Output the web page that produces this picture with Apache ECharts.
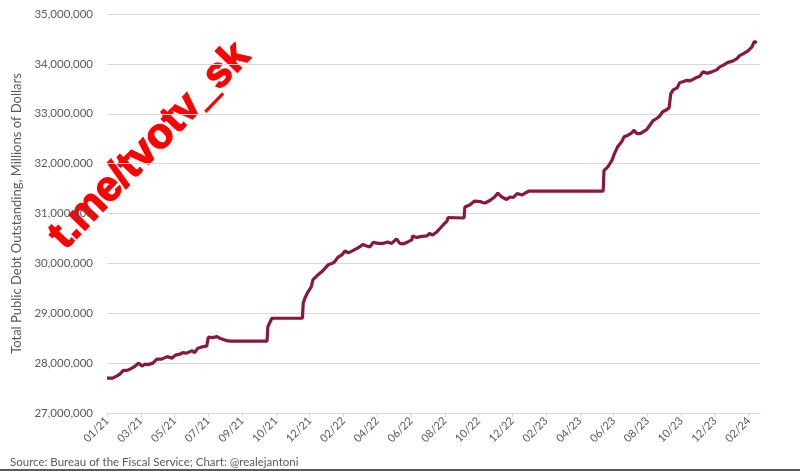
<!DOCTYPE html>
<html>
<head>
<meta charset="utf-8">
<script src="https://cdn.jsdelivr.net/npm/echarts@6/dist/echarts.min.js"></script>
<style>
html,body{margin:0;padding:0;background:#fff;}
#chart{width:800px;height:471px;}
</style>
</head>
<body>
<div id="chart"></div>
<script>
// Business-day index since first data point (01/21)
const tickStep = 42;
const tickLabels = ["01/21","03/21","05/21","07/21","09/21","10/21","12/21","02/22","04/22","06/22","08/22","10/22","12/22","02/23","04/23","06/23","08/23","10/23","12/23","02/24"];

const days = [0,7,12,16,20,26,31,35,39,44,47,51,57,62,68,75,81,85,91,94,99,106,109,113,119,124,126,131,137,140,144,149,153,199,200,205,243,244,246,250,254,256,261,267,271,275,280,283,287,292,296,300,305,311,314,318,323,327,331,337,343,349,354,360,364,368,374,379,380,385,392,398,401,405,410,414,418,423,424,444,445,451,457,464,467,470,476,482,486,491,497,501,505,510,516,520,525,617,618,623,628,631,635,640,643,648,653,655,659,663,666,671,675,679,684,687,691,696,699,701,704,709,712,716,721,725,731,737,741,746,752,758,762,766,772,777,783,787,791,797,802,805,808];

// Total public debt outstanding, millions of dollars
const debt = [27700000,27700000,27740000,27780000,27850000,27860000,27900000,27940000,28000000,27940000,27980000,27970000,28000000,28080000,28080000,28130000,28100000,28160000,28180000,28210000,28200000,28250000,28210000,28300000,28330000,28340000,28520000,28510000,28530000,28500000,28480000,28450000,28440000,28440000,28730000,28900000,28900000,29200000,29300000,29430000,29530000,29670000,29750000,29830000,29900000,29970000,30000000,30030000,30120000,30170000,30250000,30210000,30250000,30300000,30330000,30380000,30350000,30330000,30420000,30400000,30400000,30430000,30400000,30490000,30400000,30390000,30430000,30470000,30550000,30520000,30540000,30550000,30600000,30570000,30630000,30700000,30770000,30850000,30920000,30910000,31130000,31170000,31250000,31240000,31220000,31210000,31260000,31330000,31410000,31330000,31280000,31330000,31320000,31400000,31370000,31410000,31450000,31450000,31860000,31940000,32070000,32200000,32340000,32440000,32540000,32570000,32620000,32670000,32600000,32600000,32630000,32680000,32770000,32860000,32910000,32950000,33040000,33080000,33120000,33400000,33480000,33520000,33620000,33640000,33670000,33660000,33710000,33750000,33840000,33810000,33840000,33880000,33940000,33970000,34030000,34050000,34100000,34170000,34200000,34260000,34340000,34450000,34420000];

const yTicks = [27000000,28000000,29000000,30000000,31000000,32000000,33000000,34000000,35000000];

const labelFont = 'Lato';
const lineColor = '#8a173f';
const chart = echarts.init(document.getElementById('chart'), null, {renderer:'canvas'});
const tickPos = tickLabels.map((_, i) => i * tickStep);

chart.setOption({
  animation: false,
  backgroundColor: '#ffffff',
  grid: {left: 107, right: 40, top: 14, bottom: 58},
  xAxis: {
    type: 'value',
    min: 0,
    max: 812,
    axisLine: {show: true, lineStyle: {color: '#d9d9d9', width: 1}},
    axisTick: {show: true, length: 4, lineStyle: {color: '#d9d9d9'}, customValues: tickPos},
    splitLine: {show: false},
    axisLabel: {
      customValues: tickPos,
      rotate: 45,
      margin: 6,
      color: '#595959',
      fontFamily: labelFont,
      fontSize: 11,
      formatter: v => tickLabels[Math.round(v / tickStep)]
    }
  },
  yAxis: {
    type: 'value',
    min: yTicks[0],
    max: yTicks[yTicks.length - 1],
    interval: 1000000,
    name: 'Total Public Debt Outstanding, Millions of Dollars',
    nameLocation: 'middle',
    nameGap: 82,
    nameTextStyle: {color: '#595959', fontFamily: labelFont, fontSize: 13},
    axisLine: {show: false},
    axisTick: {show: false},
    splitLine: {show: true, lineStyle: {color: '#d9d9d9', width: 1}},
    axisLabel: {
      color: '#595959',
      fontFamily: labelFont,
      fontSize: 11.5,
      margin: 14,
      formatter: v => v.toLocaleString('en-US')
    }
  },
  series: [{
    type: 'line',
    data: days.map((d, i) => [d, debt[i]]),
    showSymbol: false,
    lineStyle: {color: lineColor, width: 3.2},
    itemStyle: {color: lineColor}
  }],
  graphic: [
    {
      type: 'text',
      left: 10,
      top: 456,
      style: {text: 'Source: Bureau of the Fiscal Service; Chart: @realejantoni', fill: '#595959', font: '11.5px Lato'}
    },
    {
      type: 'rect',
      shape: {x: 0, y: 469, width: 800, height: 2},
      style: {fill: '#5a5a5a'}
    },
    {
      type: 'text',
      x: 150,
      y: 146,
      rotation: 46 * Math.PI / 180,
      style: {
        text: 't.me/tvotv_sk',
        fill: '#ff0000',
        stroke: '#ff0000',
        lineWidth: 1.5,
        font: 'bold 42px "Liberation Sans"',
        align: 'center',
        verticalAlign: 'middle'
      }
    }
  ]
});
</script>
</body>
</html>
